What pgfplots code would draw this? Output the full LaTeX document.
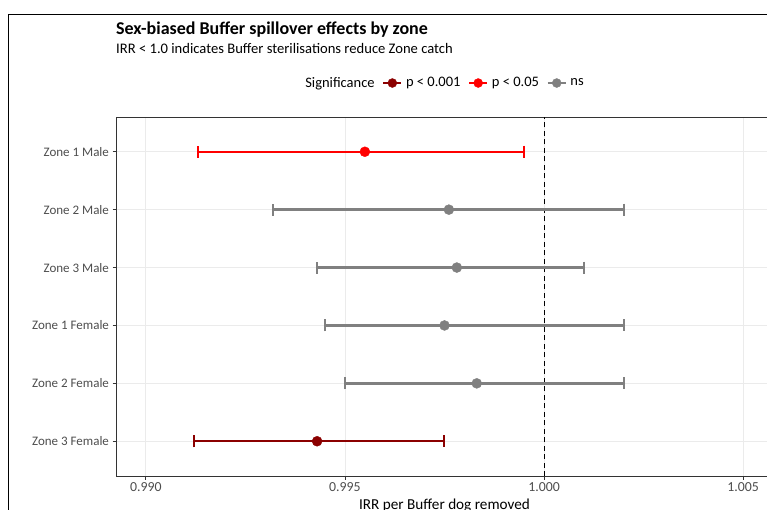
\documentclass[border=0pt]{standalone}
\usepackage{pgfplots}
\pgfplotsset{compat=1.18}
\usepackage{pgfplotstable}
\usepackage{fontspec}
\setmainfont{Carlito}

\definecolor{sigdark}{HTML}{8B0000}
\definecolor{sigred}{HTML}{FF0000}
\definecolor{signs}{HTML}{808080}
\definecolor{txtgray}{HTML}{4D4D4D}
\definecolor{bordergray}{HTML}{333333}
\definecolor{gridgray}{HTML}{EBEBEB}

% row: 6 = Zone 1 Male (top) ... 1 = Zone 3 Female (bottom)
\pgfplotstableread{
row est lo hi
1 0.99430 0.99120 0.99749
}\tabdark
\pgfplotstableread{
row est lo hi
6 0.99550 0.99130 0.99950
}\tabred
\pgfplotstableread{
row est lo hi
5 0.99761 0.99319 1.00201
4 0.99781 0.99430 1.00101
3 0.99750 0.99450 1.00201
2 0.99831 0.99500 1.00201
}\tabns

\begin{document}
\begin{tikzpicture}[x=1pt,y=1pt]
\useasboundingbox (0,0) rectangle (767,509);
\begin{scope}
\clip (0,0) rectangle (767,509);
\draw[line width=0.9pt] (8,-2) -- (8,495) -- (770,495);
\node[anchor=base west, inner sep=0pt, font=\fontsize{18}{21}\selectfont\bfseries] at (116,474) {Sex-biased Buffer spillover effects by zone};
\node[anchor=base west, inner sep=0pt, font=\fontsize{14.6}{17}\selectfont] at (116,455.5) {IRR < 1.0 indicates Buffer sterilisations reduce Zone catch};
\begin{axis}[
    at={(116pt,33pt)}, anchor=south west,
    scale only axis, width=657pt, height=359pt,
    xmin=0.98925, xmax=1.00575, ymin=0.4, ymax=6.6,
    xtick={0.990,0.995,1.000,1.005},
    ytick={1,2,3,4,5,6},
    yticklabels={Zone 3 Female, Zone 2 Female, Zone 1 Female, Zone 3 Male, Zone 2 Male, Zone 1 Male},
    /pgf/number format/assume math mode=true,
    xticklabel={\pgfmathprintnumber[fixed, fixed zerofill, precision=3]{\tick}},
    xticklabel style={font=\fontsize{13.8}{16}\selectfont, text=txtgray},
    yticklabel style={font=\fontsize{13}{15}\selectfont, text=txtgray},
    scaled x ticks=false,
    tick pos=left, tick align=outside, major tick length=3.5pt,
    tick style={bordergray, line width=0.9pt},
    axis line style={bordergray, line width=0.9pt},
    grid=major, major grid style={gridgray, line width=0.9pt},
    xlabel={IRR per Buffer dog removed},
    xlabel style={font=\fontsize{15.2}{17}\selectfont},
    legend style={at={(0.5,1.0947)}, anchor=center, draw=none, fill=none,
        legend columns=-1, font=\fontsize{14.5}{17}\selectfont,
        nodes={inner xsep=3.5pt, inner ysep=2pt},
        /tikz/every even column/.append style={column sep=4pt}},
    legend cell align=left,
]
\addlegendimage{empty legend}
\addlegendentry{Significance}

\addplot[black, line width=1.1pt, dash pattern=on 5pt off 3.5pt, forget plot]
    coordinates {(1.000,0.4) (1.000,6.6)};

\addplot[only marks, mark=*, mark size=5pt, color=sigdark,
    legend image code/.code={\draw[line width=2.4pt] (0pt,0pt) -- (18pt,0pt); \fill (9pt,0pt) circle (4.5pt);},
    error bars/.cd, x dir=both, x explicit, error mark=|,
    error bar style={line width=2.4pt, sigdark},
    error mark options={mark size=6pt, line width=2pt, sigdark}]
    table[x=est, y=row, x error plus expr=\thisrow{hi}-\thisrow{est}, x error minus expr=\thisrow{est}-\thisrow{lo}] {\tabdark};
\addlegendentry{p < 0.001}

\addplot[only marks, mark=*, mark size=5pt, color=sigred,
    legend image code/.code={\draw[line width=2.4pt] (0pt,0pt) -- (18pt,0pt); \fill (9pt,0pt) circle (4.5pt);},
    error bars/.cd, x dir=both, x explicit, error mark=|,
    error bar style={line width=2.4pt, sigred},
    error mark options={mark size=6pt, line width=2pt, sigred}]
    table[x=est, y=row, x error plus expr=\thisrow{hi}-\thisrow{est}, x error minus expr=\thisrow{est}-\thisrow{lo}] {\tabred};
\addlegendentry{p < 0.05}

\addplot[only marks, mark=*, mark size=5pt, color=signs,
    legend image code/.code={\draw[line width=2.4pt] (0pt,0pt) -- (18pt,0pt); \fill (9pt,0pt) circle (4.5pt);},
    error bars/.cd, x dir=both, x explicit, error mark=|,
    error bar style={line width=2.4pt, signs},
    error mark options={mark size=6pt, line width=2pt, signs}]
    table[x=est, y=row, x error plus expr=\thisrow{hi}-\thisrow{est}, x error minus expr=\thisrow{est}-\thisrow{lo}] {\tabns};
\addlegendentry{ns}
\end{axis}
\end{scope}
\end{tikzpicture}
\end{document}
